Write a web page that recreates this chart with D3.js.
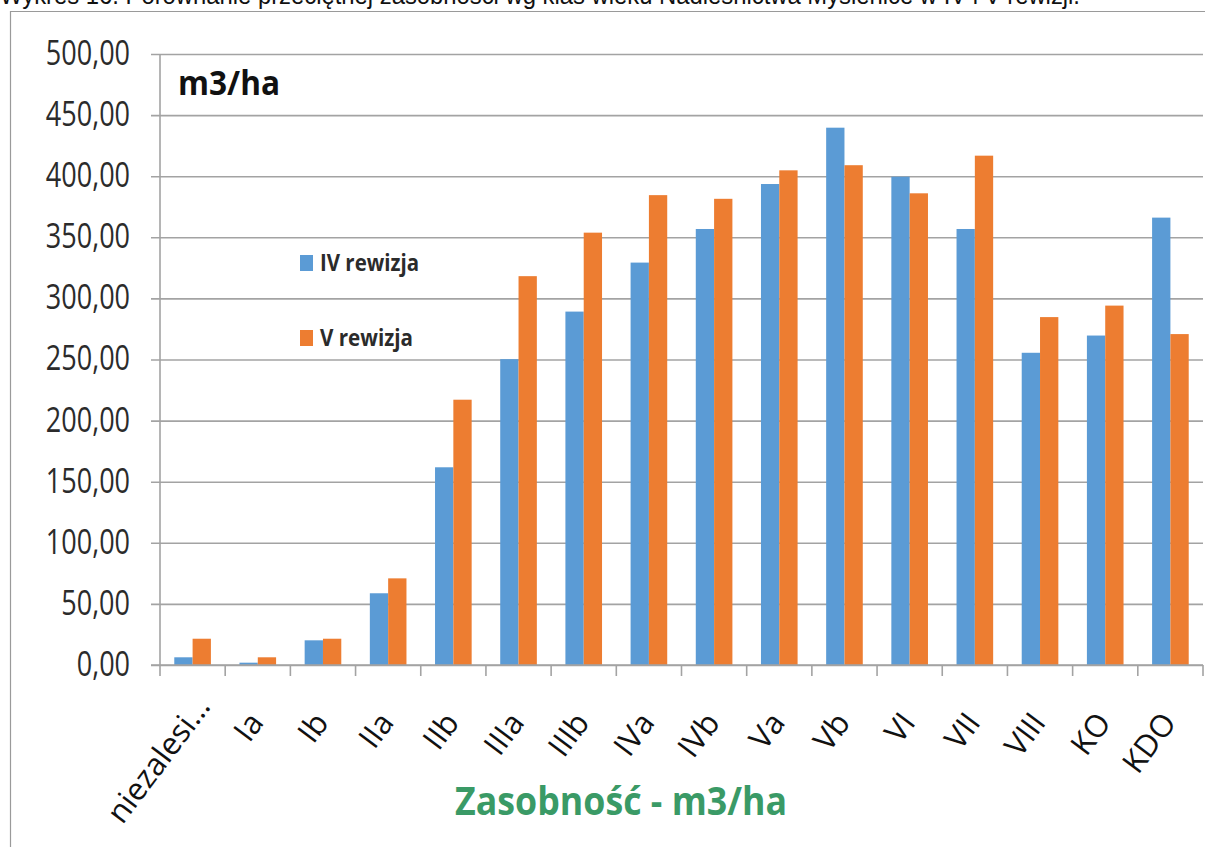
<!DOCTYPE html>
<html>
<head>
<meta charset="utf-8">
<script src="https://cdn.jsdelivr.net/npm/d3@7"></script>
<style>
  body { margin: 0; background: #fff; }
  svg { display: block; }
</style>
</head>
<body>
<svg id="chart" width="1205" height="847"></svg>
<script>
// ---------------- DATA ----------------
const categories = ["niezalesi…", "Ia", "Ib", "IIa", "IIb", "IIIa", "IIIb", "IVa", "IVb", "Va", "Vb", "VI", "VII", "VIII", "KO", "KDO"];
const seriesNames = ["IV rewizja", "V rewizja"];
const ivRewizja = [6.3, 1.9, 20.2, 58.7, 161.8, 250.3, 289.2, 329.3, 356.8, 393.6, 439.7, 399.6, 356.8, 255.5, 269.6, 366.1];
const vRewizja  = [21.5, 6.3, 21.5, 70.9, 217.1, 318.2, 353.8, 384.5, 381.5, 404.8, 409.0, 386.0, 416.8, 284.7, 294.1, 270.8];
const yTickValues = [0, 50, 100, 150, 200, 250, 300, 350, 400, 450, 500];
const titleText = "Wykres 16. Porównanie przeciętnej zasobności wg klas wieku Nadleśnictwa Myślenice w IV i V rewizji.";
const unitLabel = "m3/ha";
const axisTitle = "Zasobność - m3/ha";
const seriesColors = ["#5B9BD5", "#ED7D31"];

// ---------------- LAYOUT ----------------
const W = 1205, H = 847;
const S = 1.28; // vertical stretch of the original picture's text
const plot = { left: 160, right: 1203, top: 54, bottom: 665 };
const gridColor = "#a3a3a3";
const textColor = "#2b2b2b";

const svg = d3.select("#chart");

const x = d3.scaleBand().domain(categories).range([plot.left, plot.right]).padding(0);
const x1 = d3.scaleBand().domain(seriesNames).range([0, x.bandwidth()]).paddingInner(0).paddingOuter(0.78);
const y = d3.scaleLinear().domain([0, 500]).range([plot.bottom, plot.top]);

const plFormat = d3.formatLocale({ decimal: ",", thousands: " ", grouping: [3], currency: ["", " zł"] }).format(".2f");

// Title (clipped at the top of the page, as in the original)
svg.append("text")
  .attr("transform", `translate(0,3.5) scale(1,${S})`)
  .attr("font-family", "Liberation Sans, Arial, sans-serif")
  .attr("font-size", 20)
  .attr("fill", "#111")
  .attr("textLength", 1080)
  .attr("lengthAdjust", "spacingAndGlyphs")
  .text(titleText);

// Frame
svg.append("path")
  .attr("d", `M10.5,${H} V11.5 H${W}`)
  .attr("fill", "none")
  .attr("stroke", "#9a9a9a")
  .attr("stroke-width", 1.2);

// Y axis with gridlines
const yAxisG = svg.append("g")
  .attr("transform", `translate(${plot.left},0)`)
  .call(d3.axisLeft(y).tickValues(yTickValues).tickFormat(plFormat).tickSize(0));
yAxisG.select(".domain").remove();
yAxisG.selectAll(".tick line")
  .attr("x1", -9)
  .attr("x2", plot.right - plot.left)
  .attr("stroke", gridColor)
  .attr("stroke-width", 1.6);
yAxisG.selectAll(".tick text")
  .attr("x", 0).attr("dy", "0.36em")
  .attr("text-anchor", "end")
  .attr("transform", `translate(-30,-2) scale(1,${S})`)
  .attr("font-family", "Open Sans, sans-serif")
  .attr("font-size", 27)
  .attr("fill", textColor);

// vertical axis line
svg.append("line")
  .attr("x1", plot.left).attr("x2", plot.left)
  .attr("y1", y(500)).attr("y2", y(0))
  .attr("stroke", gridColor).attr("stroke-width", 1.6);

// Bars
const rows = categories.map((c, i) => ({ cat: c, values: [ivRewizja[i], vRewizja[i]] }));
const groups = svg.append("g").selectAll("g")
  .data(rows).join("g")
  .attr("transform", d => `translate(${x(d.cat)},0)`);
groups.selectAll("rect")
  .data(d => d.values.map((v, k) => ({ series: seriesNames[k], value: v, k })))
  .join("rect")
  .attr("x", d => x1(d.series))
  .attr("width", x1.bandwidth())
  .attr("y", d => y(d.value))
  .attr("height", d => y(0) - y(d.value))
  .attr("fill", d => seriesColors[d.k]);

// X axis
const xAxisG = svg.append("g")
  .attr("transform", `translate(0,${plot.bottom})`)
  .call(d3.axisBottom(x).tickSize(0).tickSizeOuter(0));
xAxisG.select(".domain")
  .attr("stroke", gridColor).attr("stroke-width", 1.6)
  .attr("d", `M${plot.left - 9},0H${plot.right}`);
xAxisG.selectAll(".tick text")
  .attr("x", 0).attr("y", 0).attr("dy", 0)
  .attr("dx", d => d.endsWith("…") ? 20 : 0)
  .attr("text-anchor", "end")
  .attr("transform", "translate(7,58) rotate(-53)")
  .attr("font-family", "Open Sans, sans-serif")
  .attr("font-size", 31)
  .attr("fill", "#111");
// boundary tick marks between categories
const boundaries = categories.map(c => x(c)).concat([x(categories[categories.length - 1]) + x.bandwidth()]);
xAxisG.selectAll(".bt").data(boundaries).join("line")
  .attr("class", "bt")
  .attr("x1", d => d).attr("x2", d => d)
  .attr("y1", 0).attr("y2", 11)
  .attr("stroke", gridColor).attr("stroke-width", 1.6);

// Unit label inside plot
svg.append("text")
  .attr("transform", `translate(178,95) scale(1,${S})`)
  .attr("font-family", "Open Sans, sans-serif")
  .attr("font-weight", "bold")
  .attr("font-size", 26)
  .attr("fill", "#111")
  .attr("textLength", 102)
  .attr("lengthAdjust", "spacingAndGlyphs")
  .text(unitLabel);

// Legend
const legendWidths = [99, 93];
const legend = svg.append("g").selectAll("g")
  .data(seriesNames).join("g")
  .attr("transform", (d, i) => `translate(300,${255 + i * 75})`);
legend.append("rect")
  .attr("width", 13).attr("height", 16)
  .attr("fill", (d, i) => seriesColors[i]);
legend.append("text")
  .attr("transform", `translate(20,16) scale(1,${S})`)
  .attr("font-family", "Open Sans, sans-serif")
  .attr("font-weight", "bold")
  .attr("font-size", 17.5)
  .attr("fill", textColor)
  .attr("textLength", (d, i) => legendWidths[i])
  .attr("lengthAdjust", "spacingAndGlyphs")
  .text(d => d);

// X axis title
svg.append("text")
  .attr("transform", `translate(621,814.5) scale(1,${S})`)
  .attr("text-anchor", "middle")
  .attr("font-family", "Open Sans, sans-serif")
  .attr("font-weight", "bold")
  .attr("font-size", 31)
  .attr("fill", "#3a9a66")
  .attr("textLength", 332)
  .attr("lengthAdjust", "spacingAndGlyphs")
  .text(axisTitle);
</script>
</body>
</html>
